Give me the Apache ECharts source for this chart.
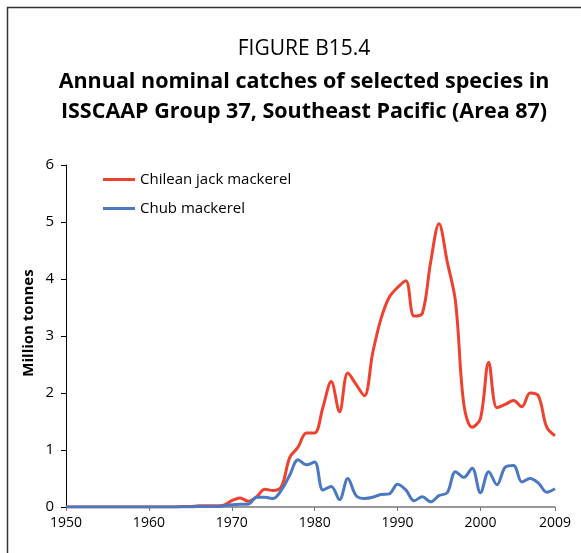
<!DOCTYPE html>
<html>
<head>
<meta charset="utf-8">
<script src="https://cdn.jsdelivr.net/npm/echarts@6/dist/echarts.min.js"></script>
<style>
  html, body { margin: 0; padding: 0; background: #fff; }
  #chart { width: 581px; height: 553px; }
</style>
</head>
<body>
<div id="chart"></div>
<script>
// years on the x axis
let years = [];
for (let y = 1950; y <= 2009; y++) years.push(String(y));

// million tonnes
let jackMackerel = [
    0.00, 0.00, 0.00, 0.00, 0.00, 0.00, 0.00, 0.00, 0.00, 0.00,   // 1950-59
    0.00, 0.00, 0.00, 0.00, 0.01, 0.01, 0.02, 0.02, 0.02, 0.03,   // 1960-69
    0.11, 0.16, 0.10, 0.18, 0.31, 0.29, 0.36, 0.87, 1.05, 1.30,   // 1970-79
    1.30, 1.75, 2.20, 1.67, 2.35, 2.15, 1.95, 2.70, 3.30, 3.68,   // 1980-89
    3.85, 3.97, 3.35, 3.40, 4.30, 4.97, 4.30, 3.60, 1.80, 1.40,   // 1990-99
    1.55, 2.54, 1.74, 1.80, 1.87, 1.76, 2.00, 1.95, 1.40, 1.25    // 2000-09
];
let chubMackerel = [
    0.00, 0.00, 0.00, 0.00, 0.00, 0.00, 0.00, 0.00, 0.00, 0.00,
    0.00, 0.00, 0.00, 0.00, 0.00, 0.00, 0.01, 0.01, 0.01, 0.02,
    0.04, 0.05, 0.05, 0.17, 0.17, 0.15, 0.30, 0.56, 0.83, 0.74,
    0.79, 0.30, 0.36, 0.13, 0.50, 0.20, 0.15, 0.17, 0.22, 0.23,
    0.40, 0.30, 0.11, 0.18, 0.09, 0.20, 0.25, 0.62, 0.52, 0.68,
    0.25, 0.62, 0.39, 0.70, 0.73, 0.44, 0.50, 0.42, 0.26, 0.32
];
let seriesNames = ['Chilean jack mackerel', 'Chub mackerel'];
let colours = ['#ef4130', '#4a78c2'];

let font = 'Open Sans';
let myChart = echarts.init(document.getElementById('chart'), null, {renderer: 'canvas'});

// which category labels / ticks to show
function decade(i, v) {
    return Number(v) % 10 === 0 || v === '2009';
}

let option = {
    backgroundColor: '#fff',
    animation: false,
    textStyle: { fontFamily: font },
    title: [
        {
            text: 'FIGURE B15.4',
            left: 299,
            textAlign: 'center',
            top: 34,
            textStyle: { fontFamily: font, fontSize: 21, fontWeight: 'normal', color: '#000' }
        },
        {
            text: 'Annual nominal catches of selected species in\nISSCAAP Group 37, Southeast Pacific (Area 87)',
            left: 299,
            textAlign: 'center',
            top: 62,
            textStyle: { fontFamily: font, fontSize: 21.5, fontWeight: 'bold', color: '#000', lineHeight: 30 }
        }
    ],
    graphic: [
        {
            type: 'rect',
            shape: { x: 7.5, y: 7.5, width: 600, height: 600 },
            style: { fill: 'none', stroke: '#333', lineWidth: 1.5 },
            silent: true
        },
        {
            type: 'text',
            x: 29,
            y: 323,
            rotation: Math.PI / 2,
            style: {
                text: 'Million tonnes',
                fontFamily: font,
                fontSize: 15,
                fontWeight: 'bold',
                fill: '#000',
                align: 'center',
                verticalAlign: 'middle'
            },
            silent: true
        }
    ],
    legend: {
        orient: 'vertical',
        left: 98,
        top: 167,
        itemGap: 14,
        itemWidth: 32,
        itemHeight: 3,
        icon: 'rect',
        textStyle: { fontFamily: font, fontSize: 15, color: '#000' },
        data: seriesNames
    },
    grid: { left: 66, right: 26, top: 165, bottom: 46, containLabel: false },
    xAxis: {
        type: 'category',
        data: years,
        boundaryGap: false,
        axisLine: { lineStyle: { color: '#777', width: 1.5 } },
        axisTick: { show: true, interval: decade, length: 4, lineStyle: { color: '#777' } },
        axisLabel: {
            interval: decade,
            color: '#000',
            fontSize: 14,
            fontFamily: font,
            margin: 9
        }
    },
    yAxis: {
        type: 'value',
        min: 0,
        max: 6,
        interval: 1,
        axisLine: { show: true, lineStyle: { color: '#000', width: 1 } },
        axisTick: { show: true, length: 5, lineStyle: { color: '#000' } },
        splitLine: { show: false },
        axisLabel: { color: '#000', fontSize: 15, fontFamily: font, margin: 12 }
    },
    series: [
        {
            name: seriesNames[0],
            type: 'line',
            data: jackMackerel,
            smooth: 0.35,
            showSymbol: false,
            color: colours[0],
            lineStyle: { width: 3, color: colours[0] }
        },
        {
            name: seriesNames[1],
            type: 'line',
            data: chubMackerel,
            smooth: 0.35,
            showSymbol: false,
            color: colours[1],
            lineStyle: { width: 3, color: colours[1] }
        }
    ]
};
myChart.setOption(option);
</script>
</body>
</html>
